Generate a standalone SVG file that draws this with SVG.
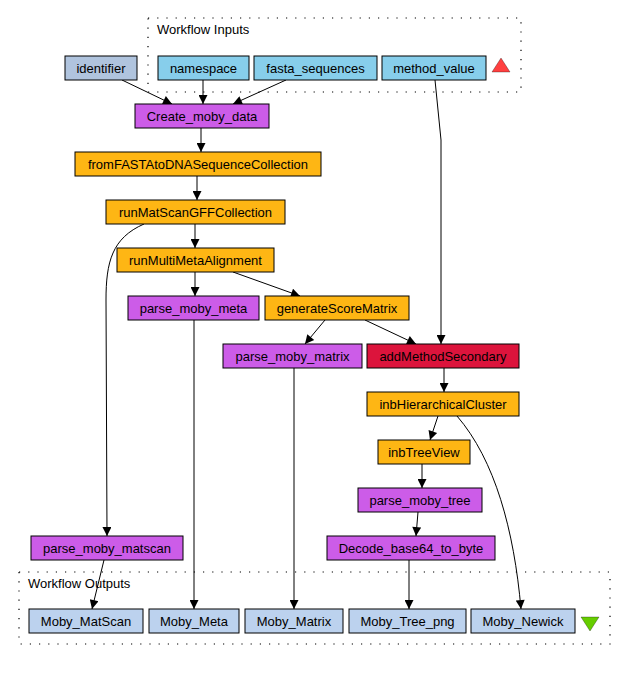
<svg xmlns="http://www.w3.org/2000/svg" width="628" height="674" viewBox="0 0 628 674">
  <style>
    text { font-family: "Liberation Sans", Arial, sans-serif; font-size: 13px; fill: #000; }
    .node text { text-anchor: middle; }
    .node rect { stroke: #000; stroke-width: 1; }
    .cluster { fill: none; stroke: #000; stroke-width: 1.2; stroke-dasharray: 1.2 8; }
    .proc rect { fill: #cc5ce8; }
    .moby rect { fill: #feb614; }
    .input rect { fill: #87ceeb; }
    .const rect { fill: #b0c4de; }
    .red rect { fill: #dc143c; }
    .output rect { fill: #bcd2ee; }
    #edges path { fill: none; stroke: #000; stroke-width: 1; marker-end: url(#ah); }
  </style>
  <defs>
    <marker id="ah" viewBox="0 0 10 10" refX="10" refY="5" markerWidth="12" markerHeight="9" orient="auto" markerUnits="userSpaceOnUse">
      <path d="M0,0 L10,5 L0,10 Z" fill="#000"/>
    </marker>
  </defs>

  <rect width="628" height="674" fill="#fff"/>

  <!-- clusters -->
  <g id="inputs-cluster">
    <rect class="cluster" x="148" y="18" width="373" height="74"/>
    <text x="157" y="34">Workflow Inputs</text>
    <polygon points="501,58 510,72 492,72" fill="#ff4040" stroke="#000" stroke-width="0.3"/>
  </g>
  <g id="outputs-cluster">
    <rect class="cluster" x="19" y="572" width="591" height="72"/>
    <text x="28" y="588">Workflow Outputs</text>
    <polygon points="581,617 599,617 590,631" fill="#66cd00" stroke="#000" stroke-width="0.3"/>
  </g>

  <!-- connectors -->
  <g id="edges">
    <path d="M122,80 L172,104"/>
    <path d="M203,80 L203,104"/>
    <path d="M286,80 L233,104"/>
    <path d="M435,80 L441,140 L441,344"/>
    <path d="M201,128 L201,152"/>
    <path d="M197,176 L197,200"/>
    <path d="M195,224 L195,248"/>
    <path d="M144,224 C112,238 106,262 106,300 L107,536"/>
    <path d="M195,272 L195,296"/>
    <path d="M233,272 L300,296"/>
    <path d="M325,320 L305,344"/>
    <path d="M365,320 L416,344"/>
    <path d="M444,368 L444,392"/>
    <path d="M438,416 L430,440"/>
    <path d="M457,416 C495,460 514,530 521,609"/>
    <path d="M422,464 L422,488"/>
    <path d="M418,512 L416,536"/>
    <path d="M409,560 L409,609"/>
    <path d="M104,560 L92,609"/>
    <path d="M194,320 L194,609"/>
    <path d="M294,368 L294,609"/>
  </g>

  <!-- workflow inputs -->
  <g id="identifier" class="node const"><rect x="65" y="56" width="72" height="24"/><text x="101" y="72.5">identifier</text></g>
  <g id="namespace" class="node input"><rect x="158" y="56" width="91" height="24"/><text x="203.5" y="72.5">namespace</text></g>
  <g id="fasta_sequences" class="node input"><rect x="254" y="56" width="123" height="24"/><text x="315.5" y="72.5">fasta_sequences</text></g>
  <g id="method_value" class="node input"><rect x="382" y="56" width="104" height="24"/><text x="434" y="72.5">method_value</text></g>

  <!-- processors -->
  <g id="Create_moby_data" class="node proc"><rect x="135" y="104" width="134" height="24"/><text x="202" y="120.5">Create_moby_data</text></g>
  <g id="fromFASTAtoDNASequenceCollection" class="node moby"><rect x="75" y="152" width="246" height="24"/><text x="198" y="168.5">fromFASTAtoDNASequenceCollection</text></g>
  <g id="runMatScanGFFCollection" class="node moby"><rect x="106" y="200" width="179" height="24"/><text x="195.5" y="216.5">runMatScanGFFCollection</text></g>
  <g id="runMultiMetaAlignment" class="node moby"><rect x="117" y="248" width="157" height="24"/><text x="195.5" y="264.5">runMultiMetaAlignment</text></g>
  <g id="parse_moby_meta" class="node proc"><rect x="128" y="296" width="131" height="24"/><text x="193.5" y="312.5">parse_moby_meta</text></g>
  <g id="generateScoreMatrix" class="node moby"><rect x="265" y="296" width="144" height="24"/><text x="337" y="312.5">generateScoreMatrix</text></g>
  <g id="parse_moby_matrix" class="node proc"><rect x="223" y="344" width="139" height="24"/><text x="292.5" y="360.5">parse_moby_matrix</text></g>
  <g id="addMethodSecondary" class="node red"><rect x="367" y="344" width="152" height="24"/><text x="443" y="360.5">addMethodSecondary</text></g>
  <g id="inbHierarchicalCluster" class="node moby"><rect x="367" y="392" width="152" height="24"/><text x="443" y="408.5">inbHierarchicalCluster</text></g>
  <g id="inbTreeView" class="node moby"><rect x="378" y="440" width="92" height="24"/><text x="424" y="456.5">inbTreeView</text></g>
  <g id="parse_moby_tree" class="node proc"><rect x="358" y="488" width="124" height="24"/><text x="420" y="504.5">parse_moby_tree</text></g>
  <g id="Decode_base64_to_byte" class="node proc"><rect x="327" y="536" width="168" height="24"/><text x="411" y="552.5">Decode_base64_to_byte</text></g>
  <g id="parse_moby_matscan" class="node proc"><rect x="31" y="536" width="152" height="24"/><text x="107" y="552.5">parse_moby_matscan</text></g>

  <!-- workflow outputs -->
  <g id="Moby_MatScan" class="node output"><rect x="29" y="609" width="114" height="24"/><text x="86" y="625.5">Moby_MatScan</text></g>
  <g id="Moby_Meta" class="node output"><rect x="149" y="609" width="90" height="24"/><text x="194" y="625.5">Moby_Meta</text></g>
  <g id="Moby_Matrix" class="node output"><rect x="245" y="609" width="98" height="24"/><text x="294" y="625.5">Moby_Matrix</text></g>
  <g id="Moby_Tree_png" class="node output"><rect x="349" y="609" width="117" height="24"/><text x="407.5" y="625.5">Moby_Tree_png</text></g>
  <g id="Moby_Newick" class="node output"><rect x="471" y="609" width="104" height="24"/><text x="523" y="625.5">Moby_Newick</text></g>
</svg>
